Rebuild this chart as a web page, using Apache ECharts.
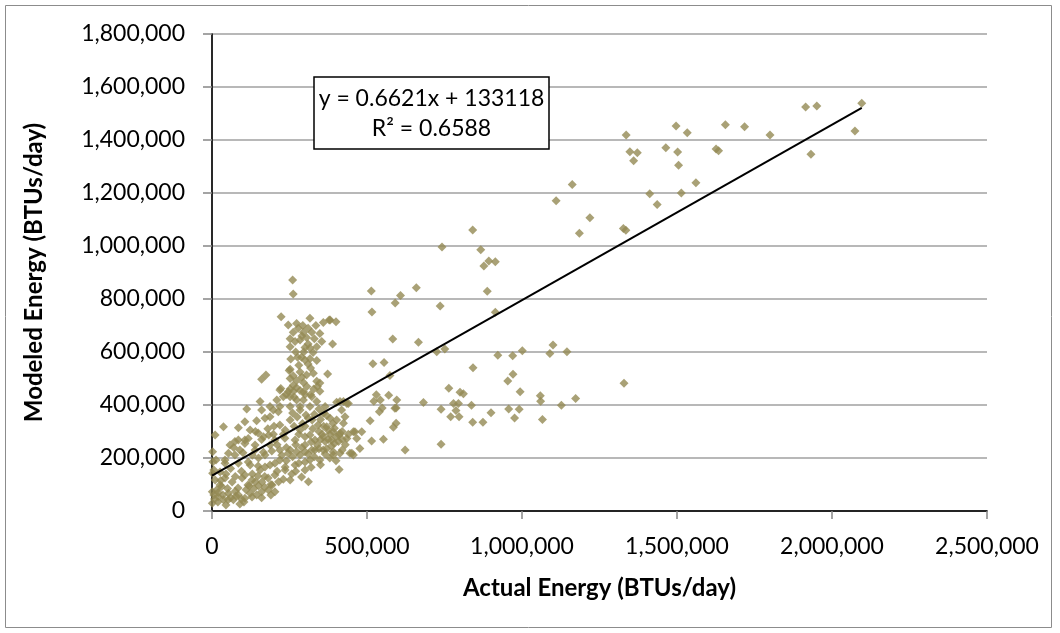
<!DOCTYPE html>
<html><head><meta charset="utf-8">
<script src="https://cdn.jsdelivr.net/npm/echarts@6/dist/echarts.min.js"></script>
<style>html,body{margin:0;padding:0;background:#fff}#c{width:1060px;height:633px}</style>
</head><body><div id="c"></div>
<script>
// ---- data (Actual, Modeled) in BTUs/day ----
const highTail = [[2096000,1539000],[2074000,1434000],[1951000,1528000],[1915000,1525000],[1932000,1346000],[1800000,1419000],[1718000,1450000],[1656000,1458000],[1626000,1366000],[1634000,1359000],[1533000,1427000],[1497000,1453000],[1464000,1371000],[1502000,1355000],[1505000,1305000],[1561000,1239000],[1514000,1200000],[1412000,1197000],[1436000,1157000],[1336000,1419000],[1348000,1356000],[1372000,1352000],[1360000,1322000],[1219000,1107000],[1162000,1232000],[1110000,1171000],[1185000,1048000],[1327000,1066000],[1335000,1059000],[1329000,482000],[1090000,594000],[1100000,626000],[1145000,601000],[1059000,435000],[1060000,414000],[1173000,425000],[1127000,399000],[1066000,345000],[1001000,605000]];
const midSpread = [[841000,1060000],[867000,986000],[877000,925000],[893000,943000],[914000,941000],[888000,829000],[914000,750000],[742000,996000],[736000,774000],[751000,611000],[725000,601000],[842000,541000],[922000,588000],[970000,586000],[971000,516000],[954000,491000],[994000,450000],[764000,463000],[800000,448000],[811000,442000],[779000,406000],[795000,406000],[837000,399000],[787000,379000],[739000,384000],[770000,356000],[797000,356000],[900000,371000],[957000,385000],[991000,384000],[976000,351000],[841000,335000],[874000,335000],[739000,252000],[514000,830000],[659000,842000],[608000,813000],[591000,785000],[516000,751000],[583000,649000],[666000,637000],[519000,556000],[555000,560000],[574000,511000],[530000,439000],[570000,437000],[596000,419000],[543000,419000],[682000,409000],[522000,414000],[549000,389000],[594000,389000],[540000,375000],[590000,388000],[510000,341000],[594000,331000],[585000,316000],[515000,264000],[553000,271000],[623000,230000],[402000,410000],[424000,413000],[440000,406000],[381000,721000],[400000,714000],[389000,630000]];
const verticalArm = [[260000,872000],[262000,819000],[223000,733000],[316000,727000],[246000,702000],[273000,708000],[359000,711000],[378000,721000],[262000,675000],[295000,675000],[322000,675000],[348000,670000],[252000,650000],[284000,645000],[310000,630000],[354000,640000],[252000,620000],[300000,617000],[316000,615000],[338000,620000],[254000,574000],[289000,580000],[300000,570000],[316000,575000],[338000,568000],[249000,530000],[284000,525000],[305000,513000],[327000,520000],[373000,517000],[160000,497000],[174000,513000],[252000,500000],[273000,492000],[295000,485000],[338000,490000],[348000,483000],[222000,462000],[252000,460000],[263000,452000],[273000,465000],[284000,455000],[295000,450000],[348000,452000],[209000,419000],[230000,431000],[252000,431000],[273000,419000],[295000,419000],[322000,431000],[338000,413000],[365000,394000],[155000,413000],[187000,394000],[219000,394000],[252000,394000],[284000,394000],[316000,394000],[413000,413000],[435000,406000],[252000,535000],[219000,457000],[246000,450000],[112000,385000],[160000,381000],[198000,381000],[214000,375000],[106000,337000],[144000,341000],[171000,350000],[187000,356000],[37000,318000],[85000,314000],[278000,690000],[290000,660000],[305000,655000],[268000,640000],[330000,650000],[296000,600000],[270000,600000],[326000,598000],[310000,555000],[280000,550000],[262000,510000],[318000,540000],[290000,505000],[306000,470000],[262000,475000],[328000,460000],[240000,440000],[318000,440000],[265000,430000],[300000,440000],[340000,470000],[276000,580000],[293000,700000],[335000,700000],[310000,690000]];
const denseCore = [[284000,381000],[303000,362000],[323000,343000],[342000,325000],[284000,306000],[316000,287000],[332000,268000],[300000,249000],[268000,268000],[252000,230000],[284000,211000],[316000,192000],[268000,174000],[300000,155000],[332000,230000],[236000,306000],[219000,325000],[252000,343000],[203000,268000],[187000,249000],[219000,192000],[187000,174000],[236000,155000],[203000,136000],[155000,155000],[171000,211000],[139000,249000],[123000,306000],[106000,268000],[90000,230000],[74000,211000],[58000,249000],[42000,192000],[123000,174000],[106000,136000],[252000,117000],[375000,305000],[395000,312000],[410000,287000],[400000,280000],[380000,290000],[365000,262000],[420000,300000],[430000,250000],[345000,300000],[350000,270000],[340000,250000],[360000,320000],[385000,245000],[370000,235000],[359000,369000],[381000,350000],[402000,343000],[424000,331000],[370000,318000],[391000,299000],[413000,293000],[359000,280000],[386000,268000],[408000,262000],[435000,274000],[456000,299000],[467000,274000],[359000,230000],[391000,224000],[413000,218000],[445000,218000],[456000,211000],[348000,192000],[410000,157000],[418000,381000],[429000,356000],[461000,299000],[483000,299000],[477000,236000],[451000,218000],[391000,211000],[260000,370000],[275000,355000],[292000,330000],[310000,350000],[330000,365000],[350000,345000],[370000,360000],[390000,330000],[345000,385000],[265000,320000],[300000,320000],[325000,310000],[355000,290000],[375000,270000],[395000,255000],[420000,270000],[440000,290000],[280000,290000],[300000,280000],[320000,260000],[345000,235000],[365000,215000],[380000,200000],[400000,190000],[420000,230000],[270000,250000],[290000,240000],[310000,215000],[330000,205000],[350000,175000],[260000,205000],[280000,180000],[300000,185000],[320000,165000],[240000,240000],[225000,210000],[210000,250000],[230000,290000],[200000,320000],[180000,310000],[160000,270000],[140000,300000],[130000,210000],[150000,200000],[100000,220000],[70000,240000],[60000,160000],[95000,150000],[130000,140000],[170000,130000],[210000,150000],[230000,120000],[270000,150000],[240000,190000]];
const baseCluster = [[10000,287000],[53000,218000],[85000,268000],[106000,255000],[2000,224000],[3000,186000],[2000,142000],[42000,180000],[74000,262000],[117000,274000],[149000,294000],[166000,280000],[183000,287000],[198000,290000],[235000,275000],[139000,230000],[166000,222000],[193000,226000],[219000,230000],[246000,218000],[273000,224000],[300000,224000],[322000,230000],[85000,180000],[117000,185000],[149000,170000],[171000,166000],[203000,180000],[236000,166000],[257000,140000],[289000,128000],[311000,110000],[1000,73000],[20000,54000],[37000,42000],[53000,67000],[69000,42000],[85000,60000],[106000,48000],[123000,67000],[144000,60000],[160000,73000],[182000,79000],[203000,73000],[15000,79000],[31000,92000],[1000,29000],[10000,117000],[26000,98000],[42000,125000],[65000,109000],[84000,87000],[97000,125000],[116000,98000],[129000,117000],[148000,132000],[161000,109000],[181000,125000],[194000,98000],[6000,60000],[19000,34000],[52000,42000],[77000,57000],[103000,34000],[129000,53000],[45000,23000],[90000,26000],[6000,155000],[13000,192000],[26000,147000],[20000,70000],[35000,60000],[50000,85000],[60000,50000],[75000,75000],[95000,45000],[110000,80000],[135000,85000],[150000,95000],[170000,90000],[190000,100000],[215000,110000],[8000,45000],[28000,115000],[45000,140000],[75000,130000],[120000,95000],[140000,110000],[160000,50000],[190000,60000]];
const trendSlope = 0.6621;
const trendIntercept = 133118;
const xTicksMax = 2500000, yTicksMax = 1800000;

const allPoints = highTail.concat(midSpread, verticalArm, denseCore, baseCluster);
const maxX = Math.max.apply(null, allPoints.map(p => p[0]));
const trendLine = [[0, trendIntercept], [maxX, trendSlope * maxX + trendIntercept]];

const fmt = v => String(v).replace(/\B(?=(\d{3})+(?!\d))/g, ',');
const FONT = 'Lato';

const chart = echarts.init(document.getElementById('c'), null, {renderer: 'canvas'});
chart.setOption({
  animation: false,
  backgroundColor: '#ffffff',
  textStyle: {fontFamily: FONT},
  grid: {left: 212, top: 34, width: 775, height: 477, containLabel: false},
  xAxis: [{
    type: 'value', min: 0, max: xTicksMax, interval: 500000,
    axisLine: {show: true, onZero: false, lineStyle: {color: '#868686', width: 1.5}},
    axisTick: {show: true, inside: false, length: 8, lineStyle: {color: '#868686', width: 1.5}},
    axisLabel: {formatter: fmt, color: '#000', fontSize: 23, fontFamily: FONT, margin: 24},
    splitLine: {show: false},
    name: 'Actual Energy (BTUs/day)', nameLocation: 'middle', nameGap: 65,
    nameTextStyle: {fontSize: 24, fontWeight: 'bold', color: '#000', fontFamily: FONT}
  }, {
    type: 'value', min: 0, max: xTicksMax, position: 'top',
    axisLine: {show: true, lineStyle: {color: '#000', width: 1.5}},
    axisTick: {show: false}, axisLabel: {show: false}, splitLine: {show: false}
  }],
  yAxis: [{
    type: 'value', min: 0, max: yTicksMax, interval: 200000,
    axisLine: {show: true, onZero: false, lineStyle: {color: '#868686', width: 1.5}},
    axisTick: {show: true, inside: false, length: 9, lineStyle: {color: '#868686', width: 1.5}},
    axisLabel: {formatter: fmt, color: '#000', fontSize: 23, fontFamily: FONT, margin: 27},
    splitLine: {show: true, lineStyle: {color: '#a0a0a0', width: 1.5}},
    name: 'Modeled Energy (BTUs/day)', nameLocation: 'middle', nameGap: 166,
    nameTextStyle: {fontSize: 24, fontWeight: 'bold', color: '#000', fontFamily: FONT}
  }, {
    type: 'value', min: 0, max: yTicksMax, position: 'right',
    axisLine: {show: true, lineStyle: {color: '#000', width: 1.5}},
    axisTick: {show: false}, axisLabel: {show: false}, splitLine: {show: false}
  }],
  series: [{
    type: 'scatter', data: allPoints, symbol: 'diamond', symbolSize: 9,
    itemStyle: {color: '#948a54'}, z: 2
  }, {
    type: 'line', data: trendLine, showSymbol: false, symbol: 'none',
    lineStyle: {color: '#000', width: 2}, z: 3
  }],
  graphic: [
    {type: 'rect', shape: {x: 5.5, y: 5.5, width: 1046, height: 622},
     style: {fill: 'none', stroke: '#8c8c8c', lineWidth: 1}, z: -1, silent: true},
    {type: 'rect', shape: {x: 314, y: 77, width: 235, height: 72},
     style: {fill: '#fff', stroke: '#000', lineWidth: 1.5}, z: 10},
    {type: 'text', x: 431.5, y: 99, z: 11,
     style: {text: 'y = 0.6621x + 133118', fill: '#000', font: '23px ' + FONT, textAlign: 'center', textVerticalAlign: 'middle'}},
    {type: 'text', x: 431.5, y: 129, z: 11,
     style: {text: 'R\u00b2 = 0.6588', fill: '#000', font: '23px ' + FONT, textAlign: 'center', textVerticalAlign: 'middle'}}
  ]
});
</script></body></html>
